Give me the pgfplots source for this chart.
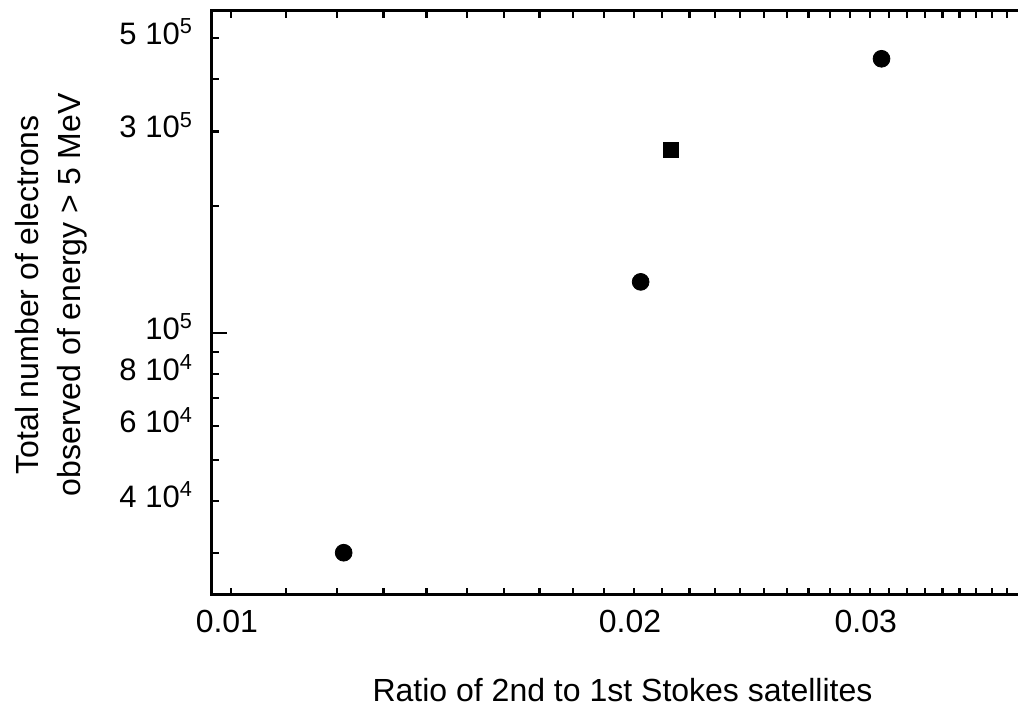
\documentclass[border=0pt]{standalone}
\usepackage{fontspec}
\setmainfont{Liberation Sans}
\usepackage{pgfplots}
\pgfplotsset{compat=1.18}
\begin{document}
\begin{tikzpicture}
\useasboundingbox (-106pt,-59pt) rectangle (403pt,297.5pt);
\begin{axis}[
  at={(0,0)}, anchor=south west,
  scale only axis, width=412.6pt, height=292pt,
  xmode=log, ymode=log,
  xmin=0.00968, xmax=0.040, ymin=2.39e4, ymax=5.79e5,
  axis line style={line width=1.5pt},
  tick align=inside,
  tick style={black, line width=1.1pt},
  major tick length=3.5pt, minor tick length=3.5pt,
  tick label style={font=\fontsize{15.5}{18}\selectfont},
  label style={font=\fontsize{16}{18}\selectfont},
  xtick={0.01,0.02,0.03}, xticklabels={0.01,0.02,0.03},
  minor xtick={0.011,0.012,0.013,0.014,0.015,0.016,0.017,0.018,0.019,
               0.021,0.022,0.023,0.024,0.025,0.026,0.027,0.028,0.029,
               0.031,0.032,0.033,0.034,0.035,0.036,0.037,0.038},
  ytick={4e4,6e4,8e4,3e5,5e5},
  yticklabels={4 10\textsuperscript{4},6 10\textsuperscript{4},8 10\textsuperscript{4},3 10\textsuperscript{5},5 10\textsuperscript{5}},
  minor ytick={3e4,5e4,7e4,9e4,2e5,4e5},
  extra y ticks={1e5}, extra y tick labels={10\textsuperscript{5}},
  extra y tick style={major tick length=7.5pt},
  ytick pos=left,
  xticklabel style={yshift=-4pt, xshift=-2pt, font=\fontsize{16}{18}\selectfont},
  yticklabel style={xshift=-6pt, yshift=3pt},
  xlabel={Ratio of 2nd to 1st Stokes satellites},
  xlabel style={at={(axis description cs:0.4975,-0.163)}, anchor=center},
  ylabel={Total number of electrons\\observed of energy > 5 MeV},
  ylabel style={at={(axis description cs:-0.1953,0.514)}, anchor=center, align=center, font=\fontsize{16}{21}\selectfont},
]
\addplot[only marks, mark=*, mark size=4.2pt, black] coordinates {
  (0.01214, 3.01e4) (0.02023, 1.32e5) (0.03061, 4.46e5)
};
\addplot[only marks, mark=square*, mark size=3.7pt, black] coordinates {
  (0.02130, 2.71e5)
};
\end{axis}
\end{tikzpicture}
\end{document}
